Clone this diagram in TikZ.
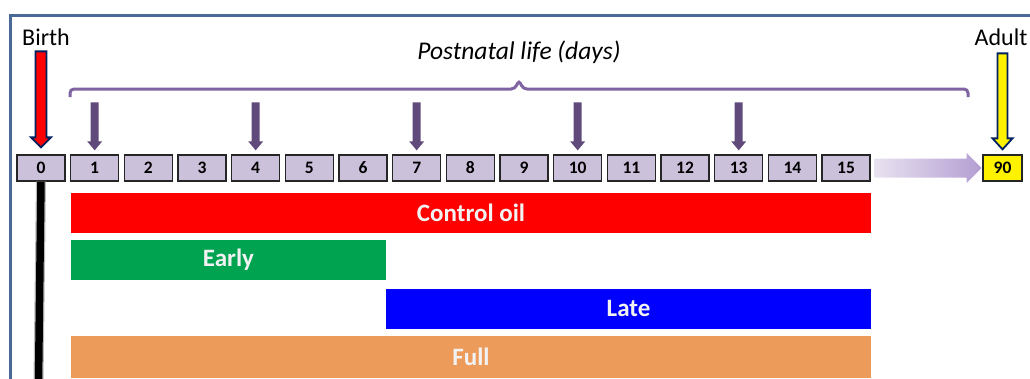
\documentclass[tikz,border=0pt]{standalone}
\usepackage{fontspec}
\setmainfont{Carlito}
\usetikzlibrary{calc}
\definecolor{framecol}{RGB}{74,106,150}
\definecolor{boxfill}{RGB}{204,193,218}
\definecolor{bracecol}{RGB}{128,100,162}
\definecolor{dayarr}{RGB}{96,74,123}
\definecolor{navy}{RGB}{0,32,96}
\definecolor{earlygreen}{RGB}{0,163,80}
\definecolor{fullorange}{RGB}{236,155,90}
\definecolor{bartext}{RGB}{242,242,242}
\definecolor{gradlight}{RGB}{232,226,240}
\definecolor{graddark}{RGB}{180,158,210}
\tikzset{
  daybox/.style={draw=black!85, line width=1.3pt, fill=boxfill, minimum width=48pt,
    minimum height=26pt, inner sep=0pt, font=\fontsize{17.5}{19}\selectfont\bfseries},
  bar/.style={minimum height=40pt, inner sep=0pt, text=bartext,
    font=\fontsize{25}{28}\selectfont\bfseries},
  dayarrow/.style={fill=dayarr},
  brace/.style={draw=bracecol, line width=3pt, rounded corners=4pt},
  bigarrow/.style={draw=navy, line width=1.8pt, line join=miter},
  label/.style={font=\fontsize{24}{28}\selectfont, inner sep=0pt}
}
\begin{document}
\begin{tikzpicture}[x=1pt, y=-1pt]
\useasboundingbox (0,0) rectangle (1030,378);

% outer frame
\draw[framecol, line width=2.5pt] (10.5,380) -- (10.5,15.5) -- (1032,15.5);

% day boxes
\foreach \i in {0,...,15}
  \node[daybox] (d\i) at ({41+\i*53.67},168) {\i};
\node[daybox, fill=yellow, minimum width=39pt] (d90) at (1002.5,168) {90};

% timeline line under day 0
\coordinate (lineend) at (38.5,382);
\draw[gray!55, line width=10pt] (d0.south) -- (lineend);
\draw[black, line width=7.5pt] (d0.south) -- (lineend);

% labels
\node[label] (birth) at (46,37) {Birth};
\node[label] (adult) at (1001,37) {Adult};
\node[label, font=\fontsize{25.5}{28}\selectfont\itshape] (postnatal) at (519,52) {Postnatal life (days)};

% brace over postnatal days
\draw[brace] (70,97) -- (70,89) -- (515,89) -- (519,80) -- (523,89) -- (968,89) -- (968,97);

% dosing arrows
\foreach \i in {1,4,7,10,13}
  \fill[dayarrow] ($(d\i.north)+(0,-4)$) -- ++(-7.5,-9) -- ++(3.5,0) -- ++(0,-39)
    -- ++(8,0) -- ++(0,39) -- ++(3.5,0) -- cycle;

% birth arrow
\draw[bigarrow, fill=red] ($(d0.north)+(0,-7)$) -- ++(-10,-10) -- ++(4.5,0) -- ++(0,-86)
  -- ++(11,0) -- ++(0,86) -- ++(4.5,0) -- cycle;

% adult arrow
\draw[bigarrow, fill=yellow] ($(d90.north)+(0,-5)$) -- ++(-10,-11) -- ++(5,0) -- ++(0,-85)
  -- ++(10,0) -- ++(0,85) -- ++(5,0) -- cycle;

% transition arrow to adulthood
\shade[left color=gradlight, right color=graddark]
  ($(d15.east)+(4,-9.5)$) -- ++(92,0) -- ++(0,-5.5) -- ++(15,15) -- ++(-15,15)
  -- ++(0,-5.5) -- ++(-92,0) -- cycle;

% treatment bars
\node[bar, fill=red, minimum width=800pt] (control) at (471,212.5) {Control oil};
\node[bar, fill=earlygreen, minimum width=315pt] (early) at (228.5,260) {Early};
\node[bar, fill=blue, minimum width=485pt] (late) at (628.5,308.5) {Late};
\node[bar, fill=fullorange, minimum width=800pt, minimum height=42pt] (full) at (471,357) {Full};
\end{tikzpicture}
\end{document}
